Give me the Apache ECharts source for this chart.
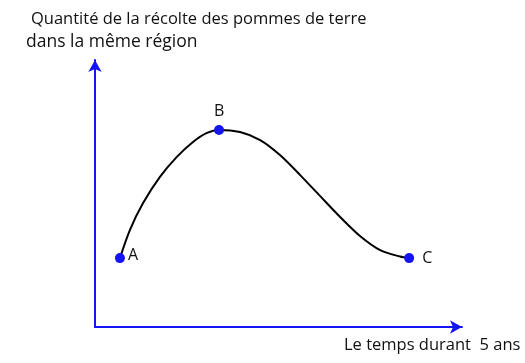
<!DOCTYPE html>
<html>
<head>
<meta charset="utf-8">
<script src="https://cdn.jsdelivr.net/npm/echarts@6/dist/echarts.min.js"></script>
<style>
  html, body { margin: 0; padding: 0; background: #fff; }
  #chart { width: 525px; height: 363px; }
</style>
</head>
<body>
<div id="chart"></div>
<script>
// curve (x: time, y: harvest, arbitrary units 0..10)
var curveX = [0.68, 0.95, 1.31, 1.77, 2.23, 2.67, 3.05, 3.38, 3.95, 4.50, 5.04, 5.59, 6.13, 6.68, 7.22, 7.77, 8.31, 8.56];
var curveY = [2.58, 3.63, 4.64, 5.62, 6.37, 6.93, 7.27, 7.38, 7.30, 7.00, 6.44, 5.69, 4.91, 4.12, 3.41, 2.88, 2.64, 2.58];
var pointNames = ['A', 'B', 'C'];
var pointX = [0.68, 3.38, 8.56];
var pointY = [2.58, 7.38, 2.58];
var yTitle1 = 'Quantité de la récolte des pommes de terre';
var yTitle2 = 'dans la même région';
var xTitle = 'Le temps durant  5 ans';

var blue = '#1414f5';
var font = '"Open Sans", "Noto Sans", sans-serif';

var chart = echarts.init(document.getElementById('chart'));

var curve = curveX.map(function (x, i) { return [x, curveY[i]]; });
var labelPos = { A: ['right', [-1, -3]], B: ['top', [0, -2]], C: ['right', [4, 0]] };
var points = pointX.map(function (x, i) {
  var lp = labelPos[pointNames[i]];
  return { name: pointNames[i], value: [x, pointY[i]], label: { position: lp[0], offset: lp[1] } };
});

var hiddenAxis = {
  type: 'value', min: 0, max: 10,
  axisTick: { show: false }, axisLabel: { show: false }, splitLine: { show: false },
  axisLine: { lineStyle: { color: blue, width: 2 }, symbol: ['none', 'arrow'], symbolSize: [10, 12] }
};

chart.setOption({
  animation: false,
  grid: { left: 95, right: 63, top: 60, bottom: 36 },
  xAxis: hiddenAxis,
  yAxis: hiddenAxis,
  graphic: [
    { type: 'text', left: 31, top: 11, style: { text: yTitle1, font: '16.5px ' + font, fill: '#111' } },
    { type: 'text', left: 26, top: 33, style: { text: yTitle2, font: '17.5px ' + font, fill: '#111' } },
    { type: 'text', left: 344, top: 337, style: { text: xTitle, font: '16.5px ' + font, fill: '#111' } }
  ],
  series: [
    {
      type: 'line', data: curve, smooth: 0.3, showSymbol: false,
      lineStyle: { color: '#000', width: 2 }, z: 2
    },
    {
      type: 'scatter', data: points, symbolSize: 10, z: 3,
      itemStyle: { color: blue, opacity: 1 },
      label: { show: true, formatter: '{b}', color: '#111', fontFamily: font, fontSize: 16, distance: 4 }
    }
  ]
});
</script>
</body>
</html>
